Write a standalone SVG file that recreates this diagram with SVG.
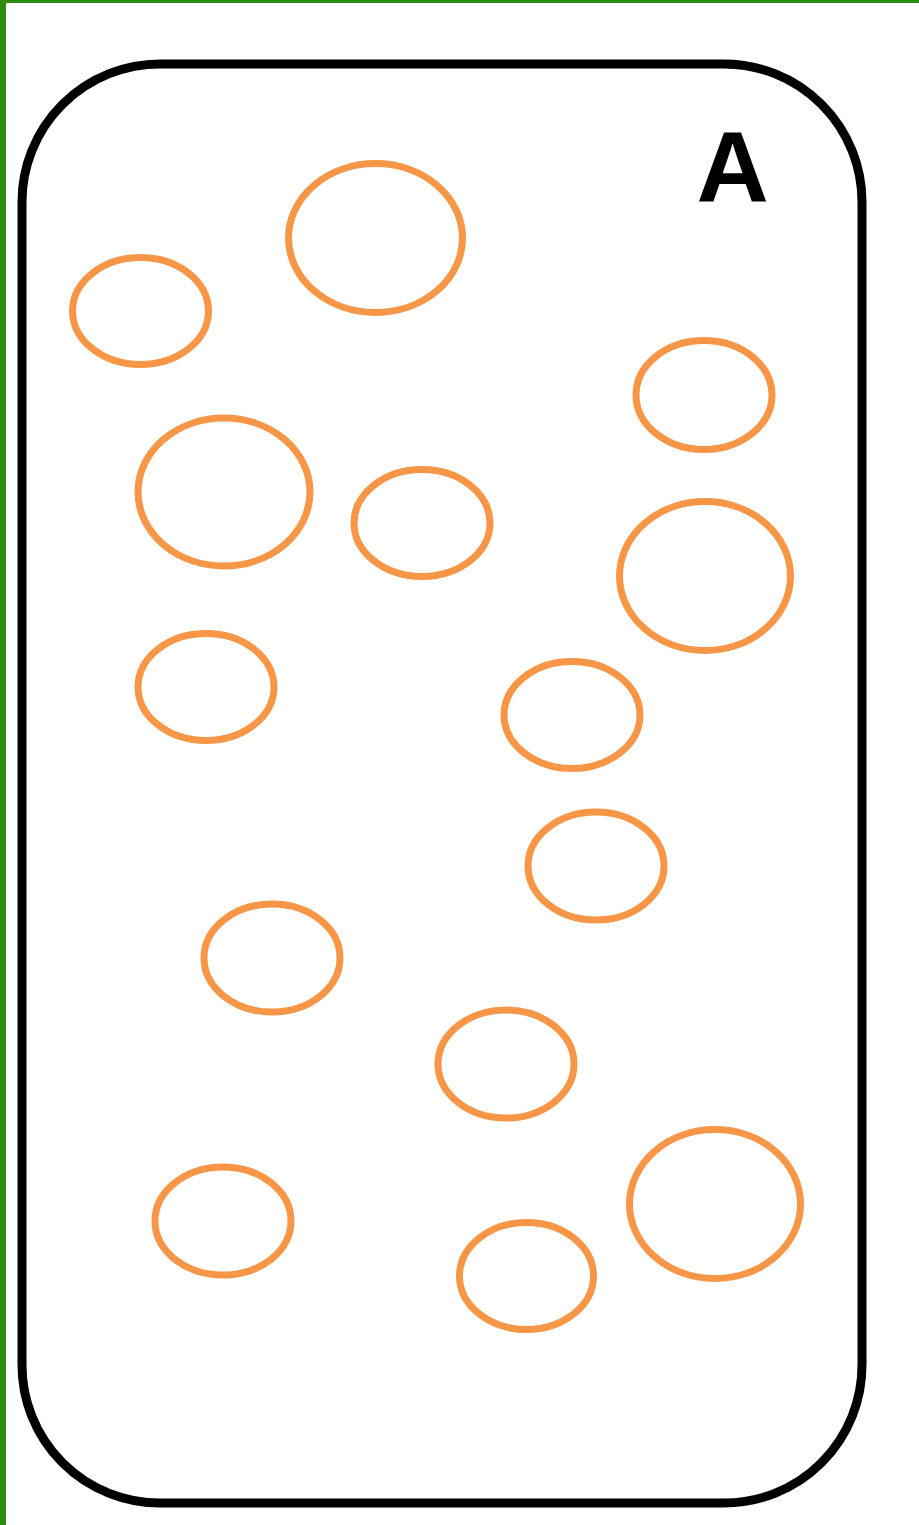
<svg xmlns="http://www.w3.org/2000/svg" width="919" height="1525" viewBox="0 0 919 1525">
<style>
.o{fill:none;stroke:#f79646;stroke-width:7}
.frame{fill:#fff;stroke:#000;stroke-width:9}
.g{fill:#2e8b12}
.lbl{font-family:"Liberation Sans",Arial,sans-serif;font-weight:bold;font-size:100px;fill:#000}
</style>
<rect width="919" height="1525" fill="#fff"/>
<rect class="g" x="0" y="0" width="919" height="3"/>
<rect class="g" x="0" y="0" width="6" height="1525"/>
<g id="setA">
<rect class="frame" x="22" y="64" width="840" height="1439" rx="138" ry="138"/>
<text class="lbl" x="732.5" y="201.5" text-anchor="middle">A</text>
</g>
<g id="e1"><ellipse class="o" cx="140.5" cy="311" rx="68" ry="53.5"/></g>
<g id="e2"><ellipse class="o" cx="375.5" cy="238" rx="87" ry="74.5"/></g>
<g id="e3"><ellipse class="o" cx="704" cy="395" rx="68" ry="54.5"/></g>
<g id="e4"><ellipse class="o" cx="224" cy="492" rx="86" ry="74"/></g>
<g id="e5"><ellipse class="o" cx="422" cy="523" rx="68" ry="53.5"/></g>
<g id="e6"><ellipse class="o" cx="705" cy="576" rx="85.5" ry="74.5"/></g>
<g id="e7"><ellipse class="o" cx="206" cy="687" rx="68" ry="53.5"/></g>
<g id="e8"><ellipse class="o" cx="572" cy="715" rx="68" ry="53.5"/></g>
<g id="e9"><ellipse class="o" cx="596" cy="866" rx="68" ry="54"/></g>
<g id="e10"><ellipse class="o" cx="272" cy="958" rx="68" ry="54"/></g>
<g id="e11"><ellipse class="o" cx="506" cy="1064" rx="68" ry="54"/></g>
<g id="e12"><ellipse class="o" cx="715" cy="1204" rx="85.5" ry="74.5"/></g>
<g id="e13"><ellipse class="o" cx="223" cy="1221" rx="68" ry="54"/></g>
<g id="e14"><ellipse class="o" cx="526.5" cy="1276" rx="67" ry="53.5"/></g>
<g id="connectors"/>
</svg>
